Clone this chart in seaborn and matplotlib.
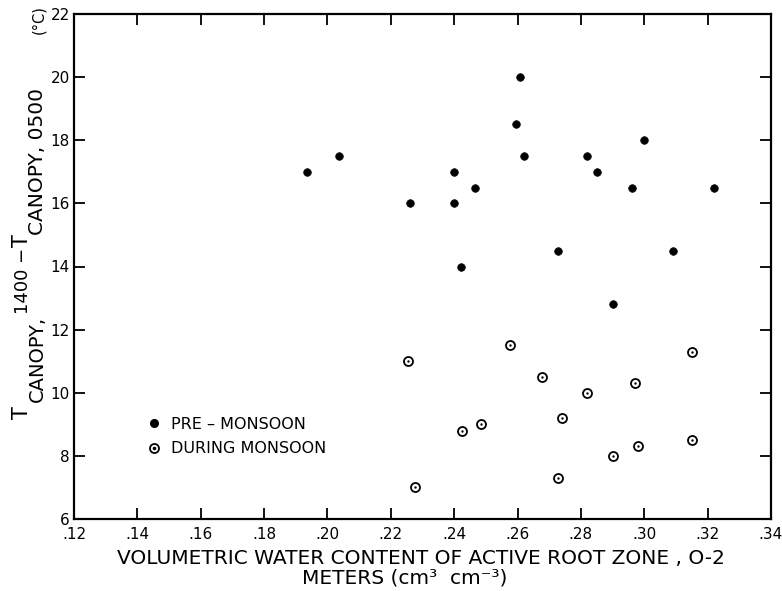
import numpy as np
import pandas as pd
import matplotlib
matplotlib.use("Agg")
import matplotlib.pyplot as plt
import seaborn as sns
from matplotlib.lines import Line2D
from matplotlib.legend_handler import HandlerTuple

# ---- data ----
pre_x = [0.1936, 0.2038, 0.226, 0.240, 0.240, 0.2466, 0.242, 0.2619, 0.2607,
         0.2595, 0.282, 0.285, 0.2729, 0.2961, 0.2999, 0.3221, 0.3091, 0.2902]
pre_y = [17.0, 17.5, 16.0, 17.0, 16.0, 16.5, 14.0, 17.5, 20.0,
         18.5, 17.5, 17.0, 14.5, 16.5, 18.0, 16.5, 14.5, 12.8]

dur_x = [0.2255, 0.2577, 0.3151, 0.2677, 0.297, 0.282, 0.2739, 0.2486,
         0.2426, 0.3152, 0.2979, 0.2901, 0.2729, 0.2275]
dur_y = [11.0, 11.5, 11.3, 10.5, 10.3, 10.0, 9.2, 9.0,
         8.8, 8.5, 8.3, 8.0, 7.3, 7.0]

x_ticks = [0.12, 0.14, 0.16, 0.18, 0.20, 0.22, 0.24, 0.26, 0.28, 0.30, 0.32, 0.34]
x_tick_labels = [".12", ".14", ".16", ".18", ".20", ".22", ".24", ".26", ".28", ".30", ".32", ".34"]
y_ticks = [6, 8, 10, 12, 14, 16, 18, 20, 22]
legend_labels = ["PRE \u2013 MONSOON", "DURING MONSOON"]

pre = pd.DataFrame({"x": pre_x, "y": pre_y})
dur = pd.DataFrame({"x": dur_x, "y": dur_y})

sns.set_style("ticks")
plt.rcParams["font.family"] = ["DejaVu Sans"]
plt.rcParams["text.color"] = "black"
plt.rcParams["axes.labelcolor"] = "black"
plt.rcParams["xtick.color"] = "black"
plt.rcParams["ytick.color"] = "black"

W, H = 782, 591
fig = plt.figure(figsize=(W / 100, H / 100), dpi=100)
ax = fig.add_axes([74 / W, 1 - 519 / H, (771 - 74) / W, (519 - 14) / H])

sns.scatterplot(data=pre, x="x", y="y", ax=ax, s=30, color="black",
                edgecolor="black", linewidth=0.5, marker="o", zorder=3)
sns.scatterplot(data=dur, x="x", y="y", ax=ax, s=42, facecolor="white",
                edgecolor="black", linewidth=1.3, marker="o", zorder=3)
sns.scatterplot(data=dur, x="x", y="y", ax=ax, s=3, color="black",
                edgecolor="black", linewidth=0, marker="o", zorder=4)

ax.set_xlim(0.12, 0.34)
ax.set_ylim(6, 22)
ax.set_xticks(x_ticks)
ax.set_xticklabels(x_tick_labels)
ax.set_yticks(y_ticks)
ax.tick_params(direction="in", length=8, width=1.3, colors="black",
               labelcolor="black", labelsize=11, top=True, right=True)
ax.tick_params(axis="x", pad=6)
ax.tick_params(axis="y", pad=3)
for sp in ax.spines.values():
    sp.set_linewidth(1.6)
    sp.set_color("black")
ax.set_xlabel("")
ax.set_ylabel("")

# legend
h1 = Line2D([], [], marker="o", ls="", mfc="black", mec="black", ms=5.5)
h2a = Line2D([], [], marker="o", ls="", mfc="white", mec="black", ms=6.5, mew=1.3)
h2b = Line2D([], [], marker="o", ls="", mfc="black", mec="black", ms=1.6)
leg = ax.legend([h1, (h2a, h2b)], legend_labels, handler_map={tuple: HandlerTuple(ndivide=1)},
                loc="center left", bbox_to_anchor=((149 - 74) / (771 - 74), (519 - 436.5) / 505),
                frameon=False, fontsize=11.5, handlelength=0.6, handletextpad=0.8,
                labelspacing=0.6, borderaxespad=0, borderpad=0)
for t in leg.get_texts():
    t.set_color("black")

# x label (two lines)
fig.text(421 / W, 1 - 564 / H, "VOLUMETRIC WATER CONTENT OF ACTIVE ROOT ZONE , O-2",
         ha="center", va="baseline", fontsize=14.5, color="black")
fig.text(405 / W, 1 - 583 / H, "METERS (cm\u00b3  cm\u207b\u00b3)",
         ha="center", va="baseline", fontsize=14.5, color="black")

# y label built from pieces (main level and subscript level), chained along y
renderer = fig.canvas.get_renderer()

def ytext(xb, ys, s, size):
    t = fig.text(xb / W, 1 - ys / H, s, rotation=90, rotation_mode="anchor",
                 ha="left", va="baseline", fontsize=size, color="black")
    bb = t.get_window_extent(renderer=renderer)
    return H - bb.y1  # top end in pixels from top

end = ytext(28, 419, "T", 15)
end = ytext(43, 402, "CANOPY,", 14)
end = ytext(28, end - 2, "1400 \u2212", 13)
end = ytext(28, end - 1, "T", 15)
end = ytext(43, end + 1, "CANOPY, 0500", 14.5)
ytext(43, 34, "(\u00b0C)", 10.5)

fig.savefig("out.png", dpi=100)
